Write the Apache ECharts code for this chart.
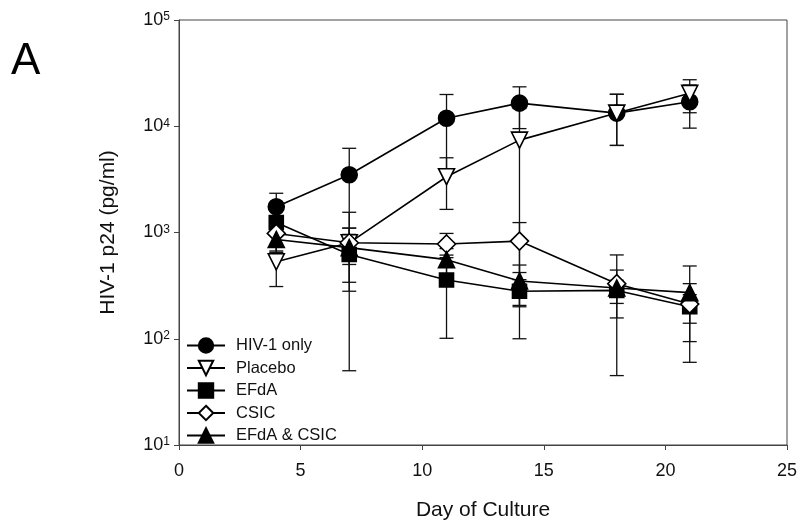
<!DOCTYPE html>
<html><head><meta charset="utf-8">
<script src="https://cdn.jsdelivr.net/npm/echarts@6/dist/echarts.min.js"></script>
<style>html,body{margin:0;padding:0;background:#fff}#c{width:802px;height:523px}</style>
</head><body><div id="c"></div>
<script>
// ---- data ----
const days = [4, 7, 11, 14, 18, 21];
const seriesNames = ['HIV-1 only', 'Placebo', 'EFdA', 'CSIC', 'EFdA & CSIC'];
const hivOnly    = [1750, 3500, 11900, 16500, 13300, 17000];
const hivOnlySD  = [590, 2700, 8000, 7000, 6700, 7400];
const placebo    = [530, 800, 3350, 7400, 13300, 20400];
const placeboSD  = [220, 750, 1700, 7300, 6700, 7000];
const efda       = [1240, 620, 357, 280, 285, 200];
const efdaSD     = [150, 340, 256, 80, 70, 60];
const csic       = [980, 800, 780, 830, 330, 212];
const csicSD     = [310, 300, 200, 410, 285, 118];
const combo      = [860, 720, 555, 350, 300, 272];
const comboSD    = [210, 380, 150, 144, 143, 212];
const xTicks = [0, 5, 10, 15, 20, 25];
const yTicks = [10, 100, 1000, 10000, 100000];

const FONT = "'Liberation Sans', Arial, sans-serif";
const means = [hivOnly, placebo, efda, csic, combo];
const sds = [hivOnlySD, placeboSD, efdaSD, csicSD, comboSD];
const styles = [
  {symbol: 'circle', size: 16, rotate: 0, fill: '#000'},
  {symbol: 'triangle', size: 16, rotate: 180, fill: '#fff'},
  {symbol: 'rect', size: 14, rotate: 0, fill: '#000'},
  {symbol: 'diamond', size: 18, rotate: 0, fill: '#fff'},
  {symbol: 'triangle', size: 16, rotate: 0, fill: '#000'}
];

const errData = [];
means.forEach((m, s) => {
  m.forEach((v, i) => {
    errData.push([days[i], Math.max(v - sds[s][i], 1), v + sds[s][i]]);
  });
});

const series = [{
  type: 'custom',
  name: 'err',
  z: 1,
  silent: true,
  encode: {x: 0, y: [1, 2]},
  data: errData,
  renderItem: function (params, api) {
    const x = api.value(0), lo = api.value(1), hi = api.value(2);
    const p1 = api.coord([x, hi]);
    const p2 = api.coord([x, lo]);
    const w = 7;
    const st = {stroke: '#111', lineWidth: 1.3};
    return {type: 'group', children: [
      {type: 'line', shape: {x1: p1[0], y1: p1[1], x2: p2[0], y2: p2[1]}, style: st},
      {type: 'line', shape: {x1: p1[0] - w, y1: p1[1], x2: p1[0] + w, y2: p1[1]}, style: st},
      {type: 'line', shape: {x1: p2[0] - w, y1: p2[1], x2: p2[0] + w, y2: p2[1]}, style: st}
    ]};
  }
}];
seriesNames.forEach((n, s) => {
  const st = styles[s];
  series.push({
    type: 'line',
    name: n,
    z: 5 + s,
    data: days.map((d, i) => [d, means[s][i]]),
    symbol: st.symbol,
    symbolSize: st.size,
    symbolRotate: st.rotate,
    showAllSymbol: true,
    lineStyle: {color: '#000', width: 1.6},
    itemStyle: {color: st.fill, borderColor: '#000', borderWidth: 1.6, opacity: 1},
    emphasis: {disabled: true},
    animation: false
  });
});

const chart = echarts.init(document.getElementById('c'), null, {renderer: 'canvas'});
chart.setOption({
  animation: false,
  backgroundColor: '#fff',
  grid: {left: 179, right: 15, top: 20, bottom: 78, containLabel: false, outerBoundsMode: 'none',
         show: true, borderColor: '#444', borderWidth: 1},
  graphic: [{type: 'text', left: 11, top: 40, style: {text: 'A', font: '44px ' + FONT, fill: '#000'}}],
  legend: {
    data: seriesNames,
    orient: 'vertical',
    left: 181,
    top: 332,
    itemWidth: 38,
    itemHeight: 18,
    itemGap: 5.5,
    textStyle: {fontFamily: FONT, fontSize: 16.5, color: '#111', padding: [0, 0, 0, 6]}
  },
  xAxis: {
    type: 'value', min: xTicks[0], max: xTicks[xTicks.length - 1], interval: 5,
    name: 'Day of Culture', nameLocation: 'middle', nameGap: 55,
    nameTextStyle: {fontFamily: FONT, fontSize: 21, color: '#111'},
    axisLine: {lineStyle: {color: '#444', width: 1}},
    axisTick: {show: true, inside: false, length: 5, lineStyle: {color: '#444'}},
    axisLabel: {fontFamily: FONT, fontSize: 18, color: '#111', margin: 17},
    splitLine: {show: false}
  },
  yAxis: {
    type: 'log', logBase: 10, min: yTicks[0], max: yTicks[yTicks.length - 1],
    name: 'HIV-1 p24 (pg/ml)', nameLocation: 'middle', nameGap: 60,
    nameTextStyle: {fontFamily: FONT, fontSize: 21, color: '#111'},
    axisLine: {show: true, lineStyle: {color: '#444', width: 1}},
    axisTick: {show: true, inside: false, length: 5, lineStyle: {color: '#444'}},
    minorTick: {show: false},
    axisLabel: {
      margin: 9,
      formatter: function (v) {
        const e = Math.round(Math.log10(v));
        return '{b|10}{e|' + e + '}';
      },
      rich: {
        b: {fontFamily: FONT, fontSize: 18, color: '#111', lineHeight: 18, verticalAlign: 'bottom'},
        e: {fontFamily: FONT, fontSize: 12, color: '#111', verticalAlign: 'top', lineHeight: 12}
      }
    },
    splitLine: {show: false}
  },
  series: series
});
</script>
</body></html>
